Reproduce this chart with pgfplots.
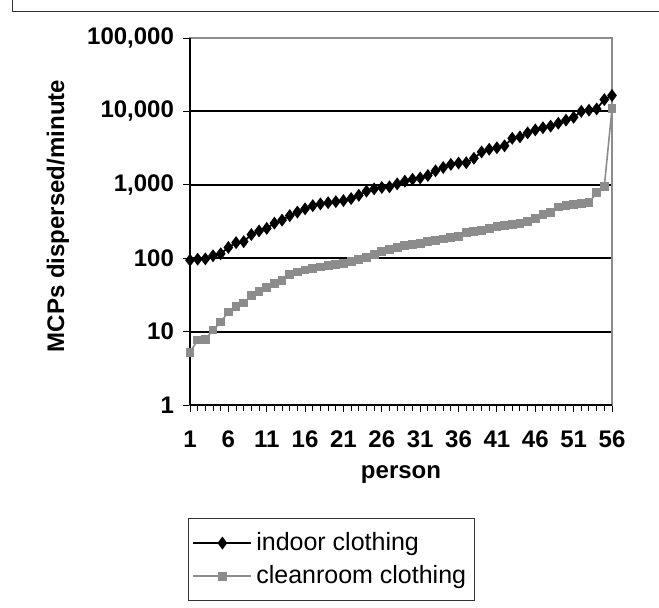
\documentclass[border=0pt]{standalone}
\usepackage{pgfplots}
\pgfplotsset{compat=1.18}
\usepackage{pgfplotstable}
\usepackage{fontspec}
\setmainfont{Liberation Sans}
\definecolor{cleangray}{RGB}{140,140,140}

\pgfplotstableread{
x y
1 94
2 97
3 98
4 108
5 115
6 140
7 163
8 168
9 210
10 235
11 255
12 300
13 330
14 380
15 425
16 470
17 520
18 550
19 570
20 590
21 610
22 650
23 720
24 820
25 880
26 920
27 940
28 1030
29 1120
30 1190
31 1240
32 1340
33 1550
34 1720
35 1900
36 1980
37 2000
38 2300
39 2800
40 3050
41 3200
42 3400
43 4300
44 4500
45 5100
46 5600
47 6000
48 6300
49 6900
50 7600
51 8300
52 10000
53 10400
54 10800
55 14500
56 16500
}\indoor

\pgfplotstableread{
x y
1 5.2
2 7.7
3 7.8
4 10.5
5 13.5
6 18.5
7 22
8 24.5
9 31
10 35
11 40
12 45
13 50
14 60
15 65
16 69
17 72
18 76
19 79
20 82
21 85
22 90
23 95
24 103
25 112
26 122
27 130
28 140
29 148
30 155
31 160
32 167
33 175
34 183
35 190
36 196
37 225
38 230
39 240
40 255
41 268
42 280
43 290
44 298
45 320
46 350
47 390
48 420
49 500
50 520
51 540
52 550
53 570
54 780
55 950
56 11000
}\cleanroom

\begin{document}
\begin{tikzpicture}[x=1pt,y=1pt]
\path[use as bounding box] (0,0) rectangle (329.5,303.5);
\draw[black!80, line width=0.5pt] (6,303.5) -- (6,298) -- (329.5,298);
\begin{axis}[
  at={(95pt,101pt)}, anchor=south west,
  width=211pt, height=183.5pt, scale only axis,
  xmin=1, xmax=56,
  ymode=log, ymin=1, ymax=100000,
  xtick={1,6,...,56},
  xticklabels={1,6,11,16,21,26,31,36,41,46,51,56},
  minor xtick={1,...,56},
  ytick={1,10,100,1000,10000,100000},
  yticklabels={1,10,100,{1,000},{10,000},{100,000}},
  yminorticks=false,
  tick align=outside,
  tick pos=left,
  major tick length=3.5pt,
  minor tick length=3pt,
  every tick/.style={black, line width=0.5pt},
  ymajorgrids,
  grid style={black, line width=1pt},
  axis line style={black!45, line width=0.6pt},
  ticklabel style={font=\bfseries\fontsize{12}{14}\selectfont},
  xticklabel style={yshift=-6pt},
  yticklabel style={xshift=-1pt},
  label style={font=\bfseries\fontsize{12}{14}\selectfont},
  ylabel={MCPs dispersed/minute},
  xlabel={person},
  ylabel style={at={(axis description cs:-0.3128,0.515)}, anchor=center},
  xlabel style={at={(axis description cs:0.5,-0.19)}, anchor=center},
  legend style={at={(axis description cs:0,0)}, anchor=north west,
    xshift=-1pt, yshift=-56.5pt,
    font=\fontsize{12.5}{14}\selectfont, draw=black!80, line width=0.5pt,
    inner xsep=2pt, inner ysep=5pt, row sep=2pt},
  legend cell align=left,
  legend image code/.code={\draw[mark repeat=2,mark phase=2] plot coordinates {(0pt,0pt) (14.5pt,0pt) (29pt,0pt)};},
  clip=false,
]
\addplot[black, line width=0.9pt, mark=diamond*, mark size=2.5pt, mark options={solid, fill=black}] table {\indoor};
\addlegendentry{indoor clothing}
\addplot[cleangray, line width=0.8pt, mark=square*, mark size=1.8pt, mark options={solid, fill=cleangray, draw=cleangray}] table {\cleanroom};
\addlegendentry{cleanroom clothing}
\draw[black, line width=0.9pt] (rel axis cs:0,0) -- (rel axis cs:0,1);
\draw[black, line width=0.7pt] (rel axis cs:0,0) -- (rel axis cs:1,0);
\end{axis}
\end{tikzpicture}
\end{document}
